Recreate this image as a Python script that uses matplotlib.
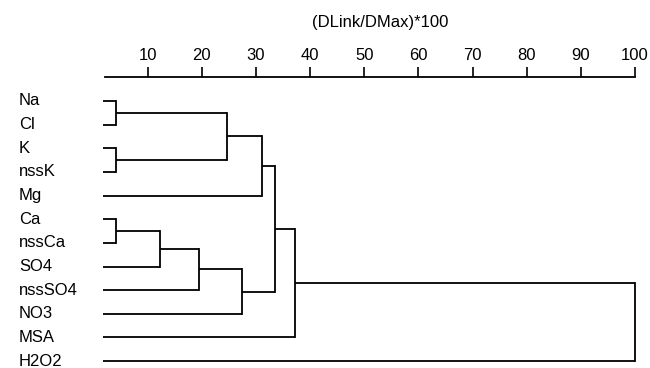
import matplotlib
matplotlib.use("Agg")
import matplotlib.pyplot as plt
from matplotlib.transforms import blended_transform_factory

plt.rcParams['font.family'] = ['Liberation Sans', 'DejaVu Sans']

# leaves, top to bottom
labels = ['Na', 'Cl', 'K', 'nssK', 'Mg', 'Ca', 'nssCa', 'SO4', 'nssSO4', 'NO3', 'MSA', 'H2O2']

# merges: new cluster ids start at len(labels)
merge_a = [0, 2, 12, 14, 5, 16, 17, 18, 15, 20, 21]
merge_b = [1, 3, 13, 4, 6, 7, 8, 9, 19, 10, 11]
merge_h = [4.1, 4.1, 24.7, 31.1, 4.1, 12.2, 19.5, 27.4, 33.5, 37.3, 100.0]

xticks = [10, 20, 30, 40, 50, 60, 70, 80, 90, 100]
leaf_start = 1.8

fig = plt.figure(figsize=(6.5, 3.68), dpi=100)
ax = fig.add_axes([0.1614, 0.0, 0.8155, 0.7908])

n = len(labels)
node_y = {i: float(i) for i in range(n)}
node_x = {i: leaf_start for i in range(n)}

lw = 1.3
for k, (a, b, h) in enumerate(zip(merge_a, merge_b, merge_h)):
    for c in (a, b):
        ax.plot([node_x[c], h], [node_y[c], node_y[c]], color='black', lw=lw,
                solid_capstyle='butt', clip_on=False)
    ax.plot([h, h], [node_y[a], node_y[b]], color='black', lw=lw,
            solid_capstyle='projecting', clip_on=False)
    node_y[n + k] = (node_y[a] + node_y[b]) / 2
    node_x[n + k] = h

# leaf names
trans = blended_transform_factory(fig.transFigure, ax.transData)
for i, name in enumerate(labels):
    ax.text(19 / 650, i, name, transform=trans, ha='left', va='center',
            fontsize=12, clip_on=False)

ax.set_xlim(2.1, 100)
ax.set_ylim(11.29, -1.015)
ax.xaxis.tick_top()
ax.set_xticks(xticks)
ax.tick_params(axis='x', direction='out', length=7, width=1.2, pad=3, labelsize=12)
ax.set_yticks([])
for side in ['left', 'right', 'bottom']:
    ax.spines[side].set_visible(False)
ax.spines['top'].set_linewidth(1.3)

fig.text(380 / 650, 1 - 22 / 368, '(DLink/DMax)*100', ha='center', va='center', fontsize=12)

fig.savefig('out.png', dpi=100)
